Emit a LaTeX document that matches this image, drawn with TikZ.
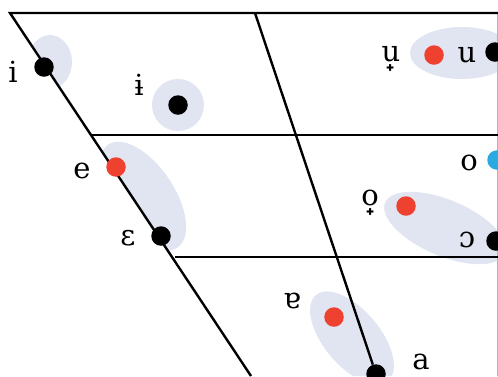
\documentclass[tikz,border=0pt]{standalone}
\usepackage{fontspec}
\setmainfont{DejaVu Serif}
\begin{document}
\begin{tikzpicture}[x=1pt,y=-1pt,
  blob/.style={fill=blobc},
  frame/.style={line width=2.4pt,black},
  dotk/.style={circle,fill=black,minimum size=19.5pt,inner sep=0pt},
  dotr/.style={circle,fill=dotred,minimum size=19.5pt,inner sep=0pt},
  dotb/.style={circle,fill=dotblue,minimum size=19.5pt,inner sep=0pt},
  lab/.style={anchor=base,inner sep=0pt,font=\fontsize{29}{32}\selectfont}]
\definecolor{blobc}{HTML}{E1E4F1}
\definecolor{dotred}{HTML}{EE4130}
\definecolor{dotblue}{HTML}{29ABE2}
\useasboundingbox (0,0) rectangle (498,376);
\clip (0,0) rectangle (498,376);
% blobs, clipped to the inside of the chart
\begin{scope}
  \clip (1.3,0) -- (498,0) -- (498,376) -- (251,376) -- cycle;
  \fill[blob] (50,62) ellipse [x radius=22, y radius=27];
  \fill[blob] (178,105) circle [radius=26];
  \fill[blob, rotate around={-56:(143,196)}] (143,196) ellipse [x radius=62, y radius=31];
  \fill[blob] (462,53) ellipse [x radius=52, y radius=26];
  \fill[blob, rotate around={-23:(445,228)}] (445,228) ellipse [x radius=65, y radius=28];
  \fill[blob, rotate around={-50:(352,338)}] (352,338) ellipse [x radius=56, y radius=28];
\end{scope}
% chart frame
\coordinate (tl) at (10,13);
\coordinate (bl) at (251,376);
\coordinate (tr) at (498,13);
\coordinate (m1) at (91,135);
\coordinate (m1r) at (498,135);
\coordinate (m2) at (175,257);
\coordinate (m2r) at (498,257);
\coordinate (ct) at (255,13);
\draw[gray!60,line width=1pt] (497.5,13) -- (497.5,376);
\draw[frame] (tr) -- (tl) -- (bl);
\draw[frame] (m1) -- (m1r);
\draw[frame] (m2) -- (m2r);
% dots
\node[dotk] (di) at (44,67) {};
\node[dotk] (dib) at (178,105) {};
\node[dotr] (de) at (116,167) {};
\node[dotk] (deps) at (161,236) {};
\node[dotr] (duadv) at (434,55) {};
\node[dotk] (du) at (495,52) {};
\node[dotb] (do) at (497,160) {};
\node[dotr] (doadv) at (406,206) {};
\node[dotk] (dopen) at (496,241) {};
\node[dotr] (dturn) at (334,317) {};
\node[dotk] (da) at (376,374) {};
\draw[frame] (ct) -- (da);
% labels
\node[lab] (li) at (13,82) {i};
\node[lab] (lib) at (139,95) {ɨ};
\node[lab] (le) at (82,178) {e};
\node[lab] (leps) at (128,245) {ɛ};
\node[lab] (luadv) at (391,61) {u̟};
\node[lab] (lu) at (467,62) {u};
\node[lab] (lo) at (469,170) {o};
\node[lab] (loadv) at (370,205) {o̟};
\node[lab] (lopen) at (467,247) {ɔ};
\node[lab] (lturn) at (292,308) {ɐ};
\node[lab] (la) at (421,369) {a};
\end{tikzpicture}
\end{document}
